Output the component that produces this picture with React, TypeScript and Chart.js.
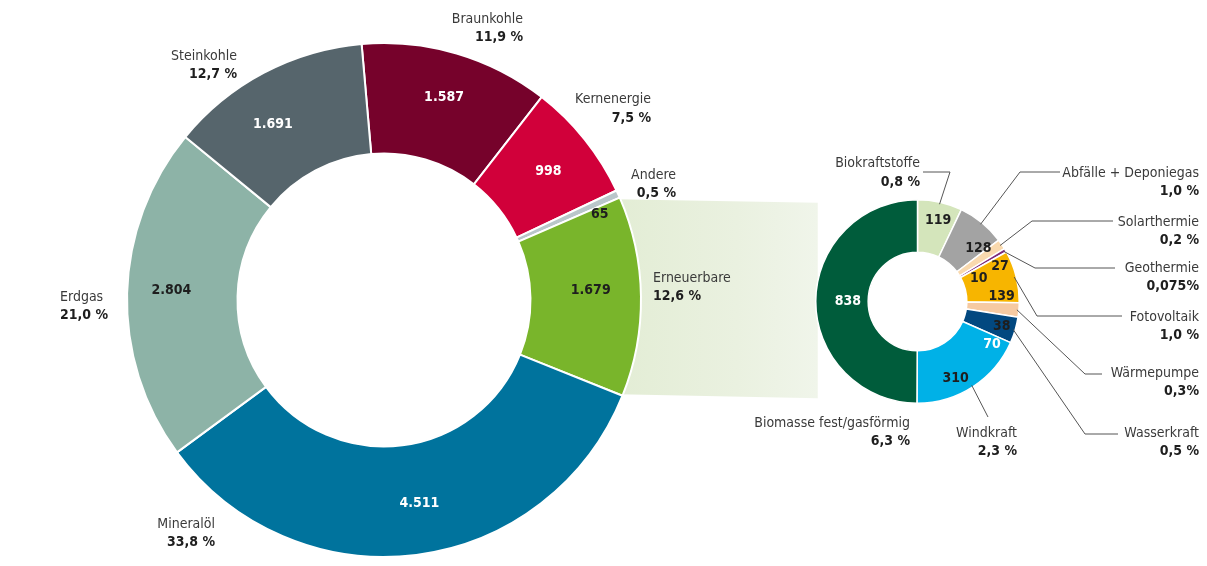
import React, { useEffect, useRef } from 'react';
import { Chart, registerables } from 'chart.js';

Chart.register(...registerables);

// ---------- data ----------
const mainCategories = ['Braunkohle', 'Kernenergie', 'Andere', 'Erneuerbare', 'Mineralöl', 'Erdgas', 'Steinkohle'];
const mainValues = [1587, 998, 65, 1679, 4511, 2804, 1691];
const mainShares = ['11,9 %', '7,5 %', '0,5 %', '12,6 %', '33,8 %', '21,0 %', '12,7 %'];

const renewCategories = ['Biokraftstoffe', 'Abfälle + Deponiegas', 'Solarthermie', 'Geothermie', 'Fotovoltaik', 'Wärmepumpe', 'Wasserkraft', 'Windkraft', 'Biomasse fest/gasförmig'];
const renewValues = [119, 128, 27, 10, 139, 38, 70, 310, 838];
const renewShares = ['0,8 %', '1,0 %', '0,2 %', '0,075%', '1,0 %', '0,3%', '0,5 %', '2,3 %', '6,3 %'];

// ---------- styles ----------
const mainColors = ['#76022b', '#d1003a', '#b9c6ca', '#79b52b', '#00739d', '#8db3a7', '#56656c'];
const mainValueText = ['#ffffff', '#ffffff', '#1e1e1e', '#1e1e1e', '#ffffff', '#1e1e1e', '#ffffff'];
const renewColors = ['#d4e5bb', '#a3a3a3', '#f9d9ae', '#7d2b7d', '#f7b500', '#f6caa2', '#024880', '#00b1e7', '#005c3b'];
const renewValueText = ['#1e1e1e', '#1e1e1e', '#1e1e1e', '#1e1e1e', '#1e1e1e', '#1e1e1e', '#ffffff', '#1e1e1e', '#ffffff'];

// label layout (text positions, offsets of value labels from arc centroids)
const mainValueOffsets = [[3, -9], [7, -3], [32, -3], [5, -7], [10, 3], [-11, -4], [-17, 3]];
const mainLabelLayout = [
  { x: 523, y: 19, align: 'right' },
  { x: 651, y: 99.5, align: 'right' },
  { x: 676, y: 175, align: 'right' },
  { x: 653, y: 278, align: 'left' },
  { x: 215, y: 524, align: 'right' },
  { x: 60, y: 297, align: 'left' },
  { x: 237, y: 56, align: 'right' },
];
const renewValueOffsets = [[4, -7], [13, 5], [20, 7], [-4, 15], [11, 13], [9, 19], [2, 22], [-3, 13], [6, 0]];
const renewLabelLayout = [
  { x: 920, y: 163.5, align: 'right', leader: [[923, 172], [950, 172]] },
  { x: 1199, y: 173, align: 'right', leader: [[1060, 172], [1020, 172]] },
  { x: 1199, y: 222, align: 'right', leader: [[1113, 221], [1032, 221]] },
  { x: 1199, y: 268, align: 'right', leader: [[1115, 268], [1035, 268]] },
  { x: 1199, y: 317, align: 'right', leader: [[1122, 316], [1037, 316]] },
  { x: 1199, y: 373, align: 'right', leader: [[1102, 374], [1085, 374]] },
  { x: 1199, y: 433, align: 'right', leader: [[1118, 434], [1085, 434]] },
  { x: 1017, y: 433, align: 'right', leader: [[988, 417]] },
  { x: 910, y: 423, align: 'right', leader: [] },
];

const FONT = "'Liberation Sans Narrow', 'DejaVu Sans Condensed', 'Roboto', sans-serif";
const LINE_GAP = 18.5;

const fmt = (v: number) => String(v).replace(/\B(?=(\d{3})+(?!\d))/g, '.');

function drawTwoLine(ctx: CanvasRenderingContext2D, name: string, share: string, l: any) {
  ctx.textAlign = l.align;
  ctx.textBaseline = 'middle';
  ctx.fillStyle = '#3a3a3a';
  ctx.font = `14px ${FONT}`;
  ctx.fillText(name, l.x, l.y);
  ctx.fillStyle = '#1e1e1e';
  ctx.font = `bold 14px ${FONT}`;
  ctx.fillText(share, l.x, l.y + LINE_GAP);
}

export default function App() {
  const bigRef = useRef<HTMLCanvasElement>(null);
  const smallRef = useRef<HTMLCanvasElement>(null);

  useEffect(() => {
    document.body.style.margin = '0';
    const big = new Chart(bigRef.current!, {
      type: 'doughnut',
      data: {
        labels: mainCategories,
        datasets: [{ data: mainValues, backgroundColor: mainColors, borderColor: '#ffffff', borderWidth: 2 }],
      },
      options: {
        animation: false,
        responsive: false,
        devicePixelRatio: 1,
        rotation: -5,
        cutout: '57%',
        events: [],
        layout: { padding: { left: 126, right: 565, top: 42, bottom: 8 } },
        plugins: { legend: { display: false }, tooltip: { enabled: false } },
      },
      plugins: [
        {
          id: 'mainLabels',
          afterDatasetsDraw(chart: any) {
            const ctx = chart.ctx;
            const arcs = chart.getDatasetMeta(0).data;
            ctx.save();
            arcs.forEach((arc: any, i: number) => {
              const p = arc.tooltipPosition();
              ctx.font = `bold 14px ${FONT}`;
              ctx.textAlign = 'center';
              ctx.textBaseline = 'middle';
              ctx.fillStyle = mainValueText[i];
              ctx.fillText(fmt(mainValues[i]), p.x + mainValueOffsets[i][0], p.y + mainValueOffsets[i][1]);
              drawTwoLine(ctx, mainCategories[i], mainShares[i], mainLabelLayout[i]);
            });
            ctx.restore();
          },
        },
      ],
    } as any);

    const small = new Chart(smallRef.current!, {
      type: 'doughnut',
      data: {
        labels: renewCategories,
        datasets: [{ data: renewValues, backgroundColor: renewColors, borderColor: '#ffffff', borderWidth: 1.5 }],
      },
      options: {
        animation: false,
        responsive: false,
        devicePixelRatio: 1,
        rotation: 0,
        cutout: '48.5%',
        events: [],
        layout: { padding: { left: 815, right: 187, top: 199, bottom: 162 } },
        plugins: { legend: { display: false }, tooltip: { enabled: false } },
      },
      plugins: [
        {
          id: 'connector',
          beforeDatasetsDraw(chart: any) {
            const ctx = chart.ctx;
            const g: any = big.getDatasetMeta(0).data[3];
            const s: any = chart.getDatasetMeta(0).data[0];
            const R = g.outerRadius - 4;
            const x1 = g.x + R * Math.cos(g.startAngle);
            const y1 = g.y + R * Math.sin(g.startAngle);
            const x2 = g.x + R * Math.cos(g.endAngle);
            const y2 = g.y + R * Math.sin(g.endAngle);
            const rx = s.x - s.outerRadius + 2;
            const ty = s.y - s.outerRadius + 3;
            const by = s.y + s.outerRadius - 5;
            const grad = ctx.createLinearGradient(x1, 0, rx, 0);
            grad.addColorStop(0, '#e3edd5');
            grad.addColorStop(0.6, '#eaf1e0');
            grad.addColorStop(0.8, '#edf3e5');
            grad.addColorStop(1, '#f0f5ea');
            ctx.save();
            ctx.fillStyle = grad;
            ctx.beginPath();
            ctx.moveTo(x1, y1);
            ctx.lineTo(rx, ty);
            ctx.lineTo(rx, by);
            ctx.lineTo(x2, y2);
            ctx.closePath();
            ctx.fill();
            ctx.restore();
          },
          afterDatasetsDraw(chart: any) {
            const ctx = chart.ctx;
            const arcs = chart.getDatasetMeta(0).data;
            ctx.save();
            arcs.forEach((arc: any, i: number) => {
              const l = renewLabelLayout[i];
              if (l.leader.length) {
                const mid = (arc.startAngle + arc.endAngle) / 2;
                const r = arc.outerRadius - 2;
                const ex = arc.x + r * Math.cos(mid);
                const ey = arc.y + r * Math.sin(mid);
                ctx.strokeStyle = '#555555';
                ctx.lineWidth = 1;
                ctx.beginPath();
                ctx.moveTo(l.leader[0][0], l.leader[0][1]);
                for (let k = 1; k < l.leader.length; k++) ctx.lineTo(l.leader[k][0], l.leader[k][1]);
                ctx.lineTo(ex, ey);
                ctx.stroke();
              }
            });
            arcs.forEach((arc: any, i: number) => {
              const p = arc.tooltipPosition();
              ctx.font = `bold 14px ${FONT}`;
              ctx.textAlign = 'center';
              ctx.textBaseline = 'middle';
              ctx.fillStyle = renewValueText[i];
              ctx.fillText(fmt(renewValues[i]), p.x + renewValueOffsets[i][0], p.y + renewValueOffsets[i][1]);
              drawTwoLine(ctx, renewCategories[i], renewShares[i], renewLabelLayout[i]);
            });
            ctx.restore();
          },
        },
      ],
    } as any);

    return () => {
      small.destroy();
      big.destroy();
    };
  }, []);

  return (
    <div style={{ position: 'relative', width: 1207, height: 566, background: '#ffffff' }}>
      <canvas ref={smallRef} width={1207} height={566} style={{ position: 'absolute', left: 0, top: 0 }} />
      <canvas ref={bigRef} width={1207} height={566} style={{ position: 'absolute', left: 0, top: 0 }} />
    </div>
  );
}
